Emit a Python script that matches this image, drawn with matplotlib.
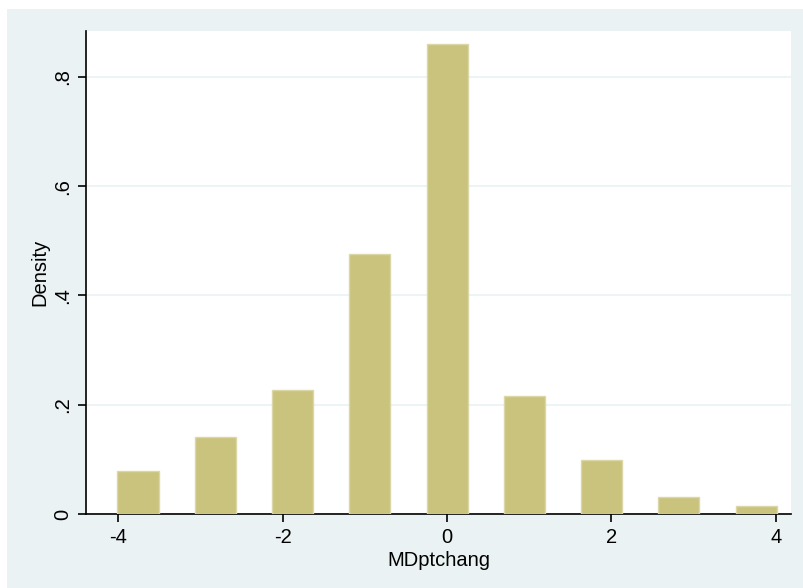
import matplotlib
matplotlib.use("Agg")
import matplotlib.pyplot as plt

# Data
bin_centers = [-3.76, -2.82, -1.88, -0.94, 0.0, 0.94, 1.88, 2.82, 3.76]
density = [0.079, 0.142, 0.227, 0.475, 0.860, 0.216, 0.099, 0.031, 0.016]
bar_width = 0.5
x_ticks = [-4, -2, 0, 2, 4]
x_tick_labels = ["-4", "-2", "0", "2", "4"]
y_ticks = [0, 0.2, 0.4, 0.6, 0.8]
y_tick_labels = ["0", ".2", ".4", ".6", ".8"]
x_label = "MDptchang"
y_label = "Density"

plt.rcParams['font.family'] = ['Liberation Sans', 'DejaVu Sans']

W, H = 804, 588
fig = plt.figure(figsize=(W / 100, H / 100), dpi=100, facecolor="white")
bg = "#EAF2F3"

# background panel (behind the plot)
bgax = fig.add_axes([7 / W, 0, 1 - 7 / W, 1 - 9.3 / H], zorder=-1)
bgax.set_facecolor(bg)
bgax.set_xticks([])
bgax.set_yticks([])
for s in bgax.spines.values():
    s.set_visible(False)

ax = fig.add_axes([86 / W, 1 - 514.3 / H, (791 - 86) / W, (514.3 - 30.7) / H], zorder=1)
ax.set_facecolor("white")

ax.bar(bin_centers, density, width=bar_width, color="#CAC37E",
       edgecolor="#DCD7A6", linewidth=1.0, zorder=3)

ax.set_xlim(-4.393, 4.184)
ax.set_ylim(0, 0.884)

ax.set_xticks(x_ticks)
ax.set_xticklabels(x_tick_labels)
ax.set_yticks(y_ticks)
ax.set_yticklabels(y_tick_labels, rotation=90, va="center")

ax.grid(axis="y", color=bg, linewidth=1.2, zorder=1)
ax.set_axisbelow(True)

for s in ["top", "right"]:
    ax.spines[s].set_visible(False)
for s in ["left", "bottom"]:
    ax.spines[s].set_color("black")
    ax.spines[s].set_linewidth(1.2)

ax.tick_params(axis="both", direction="out", length=6, width=1.2,
               color="black", labelsize=14.5, pad=4)
ax.tick_params(axis="y", pad=4)

ax.set_xlabel(x_label, fontsize=14.5, labelpad=3)
ax.set_ylabel(y_label, fontsize=14.5, labelpad=3)

fig.savefig("out.png", dpi=100, facecolor="white")
